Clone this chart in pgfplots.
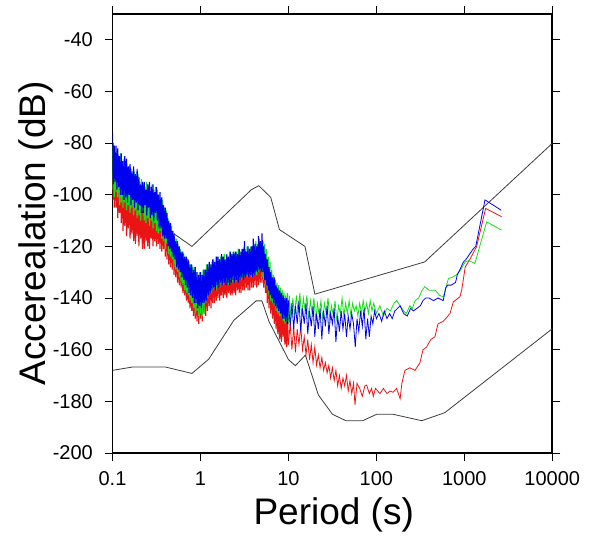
\documentclass[border=0pt]{standalone}
\usepackage{fontspec}
\setmainfont{Liberation Sans}
\usepackage{pgfplots}
\usepackage{pgfplotstable}
\pgfplotsset{compat=1.18}
\definecolor{cred}{RGB}{235,20,20}
\definecolor{cgreen}{RGB}{20,225,20}
\definecolor{cblue}{RGB}{0,0,240}
\definecolor{cmodel}{RGB}{60,60,60}

% u = log10(period in s)
\pgfplotstableread{
u r g b
-1.00 -102 -98 -76
-0.99 -91 -80 -96
-0.98 -105 -101 -81
-0.97 -90 -84 -95
-0.96 -105 -99 -81
-0.95 -93 -83 -98
-0.94 -109 -101 -82
-0.93 -94 -86 -97
-0.92 -107 -104 -85
-0.91 -96 -84 -100
-0.90 -111 -103 -84
-0.89 -97 -88 -100
-0.88 -114 -105 -87
-0.87 -96 -86 -102
-0.86 -112 -103 -85
-0.85 -99 -88 -101
-0.84 -116 -106 -86
-0.83 -101 -90 -103
-0.82 -113 -104 -89
-0.81 -100 -89 -100
-0.80 -117 -107 -88
-0.79 -102 -90 -104
-0.78 -115 -105 -91
-0.77 -100 -93 -102
-0.76 -118 -108 -89
-0.75 -102 -91 -105
-0.74 -119 -106 -92
-0.73 -104 -94 -103
-0.72 -116 -109 -90
-0.71 -101 -92 -106
-0.70 -120 -108 -93
-0.69 -103 -95 -104
-0.68 -117 -110 -96
-0.67 -102 -94 -107
-0.66 -121 -106 -95
-0.65 -104 -96 -107
-0.64 -121 -110 -95
-0.63 -106 -97 -104
-0.62 -118 -111 -98
-0.61 -103 -95 -108
-0.60 -120 -109 -96
-0.59 -105 -97 -105
-0.58 -121 -112 -95
-0.57 -104 -99 -109
-0.56 -117 -110 -97
-0.55 -106 -96 -108
-0.54 -120 -113 -96
-0.53 -108 -98 -110
-0.52 -118 -111 -99
-0.51 -105 -97 -107
-0.50 -120 -114 -97
-0.49 -107 -98 -110
-0.48 -119 -115 -100
-0.47 -109 -100 -113
-0.46 -121 -114 -99
-0.45 -108 -101 -113
-0.44 -122 -117 -101
-0.43 -110 -102 -116
-0.42 -121 -118 -104
-0.41 -111 -105 -117
-0.40 -124 -121 -105
-0.39 -112 -106 -117
-0.38 -125 -119 -107
-0.37 -114 -109 -120
-0.36 -127 -123 -110
-0.35 -115 -111 -121
-0.34 -128 -124 -111
-0.33 -117 -112 -122
-0.32 -129 -125 -114
-0.31 -118 -114 -124
-0.30 -131 -128 -115
-0.29 -119 -117 -125
-0.28 -132 -129 -118
-0.27 -121 -117 -128
-0.26 -134 -130 -118
-0.25 -122 -120 -129
-0.24 -135 -132 -120
-0.23 -124 -121 -130
-0.22 -136 -134 -122
-0.21 -125 -122 -132
-0.20 -138 -135 -122
-0.19 -126 -123 -133
-0.18 -139 -137 -124
-0.17 -127 -124 -135
-0.16 -141 -138 -124
-0.15 -128 -125 -136
-0.14 -142 -139 -125
-0.13 -128 -126 -138
-0.12 -144 -141 -127
-0.11 -130 -127 -139
-0.10 -145 -142 -127
-0.09 -131 -128 -140
-0.08 -147 -144 -129
-0.07 -132 -128 -142
-0.06 -148 -146 -128
-0.05 -133 -130 -142
-0.04 -149 -145 -130
-0.03 -132 -131 -144
-0.02 -150 -147 -131
-0.01 -134 -130 -143
0.00 -148 -146 -130
0.01 -134 -131 -144
0.02 -149 -147 -131
0.03 -133 -129 -142
0.04 -146 -146 -129
0.05 -132 -129 -142
0.06 -147 -142 -129
0.07 -131 -127 -141
0.08 -145 -140 -127
0.09 -131 -128 -139
0.10 -143 -138 -126
0.11 -130 -127 -138
0.12 -144 -138 -127
0.13 -129 -126 -137
0.14 -142 -137 -125
0.15 -130 -125 -136
0.16 -142 -136 -126
0.17 -128 -126 -137
0.18 -141 -137 -124
0.19 -129 -124 -135
0.20 -140 -135 -124
0.21 -128 -125 -136
0.22 -141 -136 -125
0.23 -127 -124 -134
0.24 -139 -134 -123
0.25 -128 -124 -135
0.26 -140 -135 -124
0.27 -127 -123 -134
0.28 -139 -133 -125
0.29 -129 -125 -135
0.30 -140 -134 -123
0.31 -127 -124 -134
0.32 -138 -135 -124
0.33 -126 -122 -135
0.34 -139 -133 -122
0.35 -127 -123 -134
0.36 -139 -134 -123
0.37 -126 -122 -133
0.38 -138 -133 -122
0.39 -128 -124 -134
0.40 -139 -134 -122
0.41 -126 -122 -133
0.42 -137 -132 -123
0.43 -125 -121 -134
0.44 -138 -133 -121
0.45 -126 -122 -133
0.46 -138 -133 -122
0.47 -125 -121 -132
0.48 -137 -132 -121
0.49 -127 -123 -133
0.50 -137 -132 -118
0.51 -125 -121 -132
0.52 -136 -131 -122
0.53 -124 -120 -131
0.54 -137 -132 -120
0.55 -125 -121 -132
0.56 -137 -131 -121
0.57 -124 -120 -131
0.58 -136 -132 -120
0.59 -126 -122 -132
0.60 -136 -131 -117
0.61 -124 -120 -131
0.62 -135 -130 -119
0.63 -123 -118 -130
0.64 -136 -131 -120
0.65 -124 -119 -130
0.66 -135 -130 -116
0.67 -122 -117 -129
0.68 -134 -129 -118
0.69 -122 -118 -130
0.70 -134 -132 -115
0.71 -123 -118 -130
0.72 -136 -133 -120
0.73 -125 -119 -133
0.74 -138 -135 -123
0.75 -128 -121 -135
0.76 -142 -137 -125
0.77 -130 -124 -137
0.78 -144 -139 -128
0.79 -133 -126 -139
0.80 -146 -141 -130
0.81 -135 -129 -140
0.82 -148 -142 -132
0.83 -137 -131 -142
0.84 -150 -143 -132
0.85 -139 -133 -143
0.86 -152 -145 -135
0.87 -140 -134 -144
0.88 -154 -146 -136
0.89 -142 -135 -145
0.90 -156 -147 -137
0.91 -143 -136 -146
0.92 -157 -148 -138
0.93 -145 -137 -148
0.94 -155 -149 -139
0.95 -146 -138 -148
0.96 -158 -150 -140
0.97 -147 -139 -149
0.98 -159 -149 -140
0.99 -148 -138 -150
1.00 -158 -150 -141
}\dense

\pgfplotstableread{
u r
1.00 -158
1.02 -150
1.04 -160
1.06 -151
1.08 -161
1.10 -152
1.12 -158
1.14 -151
1.16 -160
1.18 -155
1.20 -162
1.22 -156
1.24 -164
1.26 -158
1.28 -165
1.30 -159
1.32 -166
1.34 -162
1.36 -167
1.38 -163
1.40 -168
1.42 -165
1.44 -169
1.46 -166
1.48 -171
1.50 -167
1.52 -172
1.54 -168
1.56 -174
1.58 -170
1.60 -175
1.62 -171
1.64 -174
1.66 -170
1.68 -176
1.70 -172
1.72 -177
1.74 -173
1.757 -181.4
1.78 -173
1.81 -175
1.84 -178
1.87 -174
1.89 -173.7
1.92 -177
1.945 -175
1.965 -178
1.99 -175
2.04 -177
2.08 -175
2.12 -177
2.155 -176
2.19 -176.5
2.23 -175
2.27 -179
2.29 -173
2.325 -168
2.38 -167
2.44 -168
2.496 -165
2.53 -160
2.57 -159
2.62 -156
2.666 -155
2.70 -150
2.76 -149
2.80 -147.5
2.837 -146
2.875 -141.5
2.95 -139.5
2.97 -137
3.01 -128
3.064 -125
3.14 -120
3.242 -105.3
3.424 -108.5
}\redtail

\pgfplotstableread{
u g
1.00 -150
1.01 -139
1.03 -148
1.05 -140
1.07 -147
1.09 -139
1.11 -146
1.13 -138
1.15 -147
1.17 -140
1.19 -145
1.21 -139
1.23 -148
1.25 -141
1.27 -146
1.29 -140
1.31 -149
1.33 -142
1.35 -147
1.37 -141
1.39 -148
1.41 -142
1.43 -146
1.45 -140
1.47 -148
1.49 -143
1.51 -147
1.53 -141
1.55 -149
1.57 -143
1.59 -146
1.61 -140
1.63 -147
1.65 -142
1.67 -146
1.69 -141
1.71 -147
1.73 -142
1.75 -145
1.77 -143
1.79 -147
1.81 -142
1.83 -146
1.85 -141
1.87 -145
1.89 -142
1.91 -146
1.93 -141
1.95 -145
1.97 -142
2.00 -146
2.04 -143
2.08 -147
2.12 -144
2.16 -145
2.20 -142
2.23 -141
2.27 -143
2.31 -145
2.34 -146
2.38 -143
2.41 -144
2.44 -141
2.48 -140
2.52 -137
2.55 -135.6
2.60 -137
2.67 -137
2.72 -139
2.76 -139.5
2.82 -132.4
2.86 -132
2.91 -131
2.96 -129
3.01 -126
3.05 -125.5
3.12 -126.6
3.254 -110.5
3.424 -113.7
}\greentail

\pgfplotstableread{
u b
1.00 -141
1.02 -151
1.04 -142
1.06 -152
1.08 -143
1.10 -150
1.12 -141
1.14 -153
1.16 -144
1.18 -150
1.20 -142
1.22 -154
1.24 -145
1.26 -151
1.28 -143
1.30 -155
1.32 -146
1.34 -152
1.36 -144
1.38 -156
1.40 -145
1.42 -151
1.44 -143
1.46 -154
1.48 -146
1.50 -150
1.52 -144
1.54 -157
1.56 -147
1.58 -153
1.60 -145
1.62 -152
1.64 -146
1.66 -155
1.68 -147
1.70 -152
1.72 -146
1.74 -150
1.76 -159
1.78 -148
1.80 -153
1.82 -145
1.84 -151
1.86 -144
1.88 -156
1.90 -148
1.92 -155
1.94 -147
1.96 -150
1.98 -145
2.00 -148
2.03 -146
2.06 -149
2.09 -145
2.12 -148
2.15 -146
2.18 -148
2.21 -145
2.24 -144
2.27 -143
2.31 -146
2.35 -147
2.39 -144
2.42 -145
2.46 -144
2.50 -143
2.53 -141
2.56 -140
2.60 -140
2.65 -141
2.70 -140
2.76 -141
2.79 -136
2.81 -135
2.85 -135
2.90 -134
2.92 -131
2.95 -129
2.99 -126
3.02 -125
3.06 -123
3.10 -121
3.13 -120
3.235 -102
3.42 -106
}\bluetail

\begin{document}
\begin{tikzpicture}
\begin{axis}[
  name=ax,
  at={(0,0)}, anchor=south west,
  scale only axis,
  width=329.9pt, height=329.3pt,
  xmin=-1, xmax=4, ymin=-200, ymax=-30,
  xtick={-1,0,1,2,3,4},
  xticklabels={0.1,1,10,100,1000,10000},
  ytick={-200,-180,-160,-140,-120,-100,-80,-60,-40},
  yticklabels={-200,-180,-160,-140,-120,-100,-80,-60,-40},
  minor tick num=0,
  tick align=outside,
  major tick length=6pt,
  tick style={line width=0.6pt, black},
  axis line style={line width=1.3pt},
  ticklabel style={font=\fontsize{15}{18}\selectfont, inner sep=0pt},
  xticklabel shift=7.5pt,
  yticklabel shift=8.6pt,
  xlabel={Period (s)},
  ylabel={Accerealation (dB)},
  label style={font=\fontsize{27.75}{33}\selectfont, inner sep=0pt},
  xlabel style={at={(axis description cs:0.503,-0.164)}, anchor=base},
  ylabel style={at={(axis description cs:-0.1534,0.5)}, anchor=base},
  clip=true,
]
\addplot[cmodel, line width=0.6pt] coordinates {
(-1,-91.5) (-0.658,-97.4) (-0.495,-110.5) (-0.097,-120.0) (0.580,-98.0)
(0.663,-96.5) (0.799,-101.0) (0.898,-113.5) (1.188,-120.0) (1.301,-138.5)
(2.550,-126.0) (4,-80.1)};
\addplot[cmodel, line width=0.6pt] coordinates {
(-1,-168.0) (-0.770,-166.7) (-0.398,-166.7) (-0.097,-169.2) (0.093,-163.7)
(0.380,-148.6) (0.633,-141.1) (0.699,-141.1) (0.778,-149.0) (1.0,-163.8)
(1.079,-166.2) (1.193,-162.1) (1.340,-177.5) (1.5,-185.0) (1.653,-187.5)
(1.845,-187.5) (2.004,-185.0) (2.188,-185.0) (2.516,-187.5) (2.778,-184.4)
(4,-151.9)};
\addplot[cred, line width=0.85pt] table[x=u, y=r] {\dense};
\addplot[cred, line width=0.6pt] table[x=u, y=r] {\redtail};
\addplot[cgreen, line width=0.85pt] table[x=u, y=g] {\dense};
\addplot[cgreen, line width=0.6pt] table[x=u, y=g] {\greentail};
\addplot[cblue, line width=0.85pt] table[x=u, y=b] {\dense};
\addplot[cblue, line width=0.6pt] table[x=u, y=b] {\bluetail};
\end{axis}
\pgfresetboundingbox
\path[use as bounding box] ([shift={(-84.4pt,-65.25pt)}]ax.south west) rectangle ([shift={(35.8pt,10.5pt)}]ax.north east);
\end{tikzpicture}
\end{document}
